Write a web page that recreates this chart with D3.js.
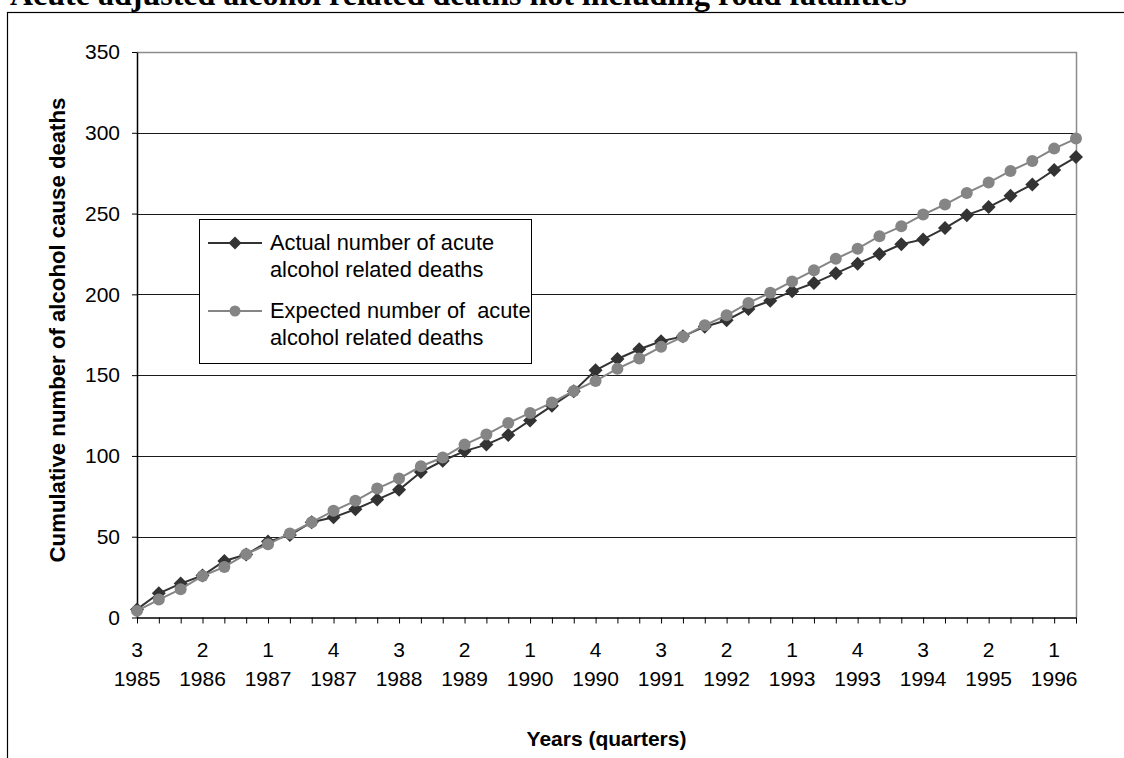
<!DOCTYPE html>
<html>
<head>
<meta charset="utf-8">
<script src="https://cdn.jsdelivr.net/npm/d3@7"></script>
<style>
  html, body { margin: 0; padding: 0; background: #fff; }
  svg { display: block; }
  text { font-family: "Liberation Sans", Arial, sans-serif; fill: #000; }
</style>
</head>
<body>
<svg id="chart" width="1124" height="758"></svg>
<script>
// Quarterly periods, 1985 Q3 through 1996 Q2
const periods = [
  "1985-3","1985-4","1986-1","1986-2","1986-3","1986-4","1987-1","1987-2",
  "1987-3","1987-4","1988-1","1988-2","1988-3","1988-4","1989-1","1989-2",
  "1989-3","1989-4","1990-1","1990-2","1990-3","1990-4","1991-1","1991-2",
  "1991-3","1991-4","1992-1","1992-2","1992-3","1992-4","1993-1","1993-2",
  "1993-3","1993-4","1994-1","1994-2","1994-3","1994-4","1995-1","1995-2",
  "1995-3","1995-4","1996-1","1996-2"
];

// Cumulative actual acute alcohol related deaths
const actualDeaths = [
  5, 15, 21, 26, 35, 39, 47, 51, 59, 62, 67, 73, 79, 90, 97, 103,
  107, 113, 122, 131, 140, 153, 160, 166, 171, 174, 180, 184, 191, 196, 202, 207,
  213, 219, 225, 231, 234, 241, 249, 254, 261, 268, 277, 285
];

// Cumulative expected acute alcohol related deaths
const expectedDeaths = [
  4.1, 11.1, 17.5, 25.7, 31.3, 39.2, 45.4, 52.0, 59.0, 66.0, 72.2, 79.8, 86.0, 93.6, 99.0, 107.0,
  113.2, 120.4, 126.6, 133.0, 140.2, 146.4, 154.0, 160.3, 167.5, 173.7, 180.9, 187.0, 194.7, 201.0, 208.0, 214.9,
  222.0, 228.3, 236.0, 242.1, 249.4, 255.6, 262.8, 269.2, 276.4, 282.6, 290.2, 296.4
];

const yTicks = [0, 50, 100, 150, 200, 250, 300, 350];

const seriesNames = [
  ["Actual number of acute", "alcohol related deaths"],
  ["Expected number of  acute", "alcohol related deaths"]
];

const titleText = "Acute adjusted alcohol related deaths not including road fatalities";
const yTitle = "Cumulative number of alcohol cause deaths";
const xTitle = "Years (quarters)";

const svg = d3.select("#chart");
const plot = { left: 137, right: 1076, top: 52, bottom: 617.5 };

const x = d3.scalePoint().domain(periods).range([plot.left, plot.right]);
const y = d3.scaleLinear().domain([0, 350]).range([plot.bottom, plot.top]);

// Outer frame
svg.append("rect")
  .attr("x", 7.5).attr("y", 12.5)
  .attr("width", 1130).attr("height", 760)
  .attr("fill", "none").attr("stroke", "#000").attr("stroke-width", 1.2);

// Title (partly above the page edge)
svg.append("text")
  .attr("x", 10).attr("y", 5)
  .style("font-family", "'Liberation Serif', 'Times New Roman', serif")
  .style("font-weight", "bold")
  .style("font-size", "32px")
  .text(titleText);

// Horizontal gridlines
svg.append("g")
  .selectAll("line")
  .data(yTicks.filter(v => v > 0 && v < 350))
  .join("line")
  .attr("x1", plot.left).attr("x2", plot.right)
  .attr("y1", d => Math.round(y(d)) + 0.5).attr("y2", d => Math.round(y(d)) + 0.5)
  .attr("stroke", "#1a1a1a").attr("stroke-width", 1);

// Plot-area border (top and right)
svg.append("path")
  .attr("d", `M${plot.left},${Math.round(y(350)) + 0.5}H${plot.right + 0.5}V${plot.bottom}`)
  .attr("fill", "none").attr("stroke", "#8c8c8c").attr("stroke-width", 1.5);

// Y axis
const yAxis = svg.append("g")
  .attr("transform", `translate(${plot.left},0)`)
  .call(d3.axisLeft(y).tickValues(yTicks).tickSize(5).tickPadding(12).tickSizeOuter(0));
yAxis.select(".domain").attr("stroke", "#000").attr("stroke-width", 1.5);
yAxis.selectAll(".tick line").attr("stroke", "#000");
yAxis.selectAll(".tick text")
  .style("font-size", "21px")
  .style("font-family", "'Liberation Sans', Arial, sans-serif")
  .attr("fill", "#000");

// X axis with a tick at every quarter, labels every third quarter
const xAxis = svg.append("g")
  .attr("transform", `translate(0,${plot.bottom})`)
  .call(d3.axisBottom(x).tickSize(6).tickSizeOuter(0).tickFormat(() => ""));
xAxis.select(".domain").attr("stroke", "#000").attr("stroke-width", 1.5);
xAxis.selectAll(".tick line").attr("stroke", "#000");
xAxis.selectAll(".tick text").remove();

const labelled = periods.filter((p, i) => i % 3 === 0);
const xLab = svg.append("g").selectAll("text")
  .data(labelled)
  .join("text")
  .attr("text-anchor", "middle")
  .style("font-size", "21px");
xLab.append("tspan")
  .attr("x", d => x(d)).attr("y", 657)
  .text(d => d.split("-")[1]);
xLab.append("tspan")
  .attr("x", d => x(d)).attr("y", 686)
  .text(d => d.split("-")[0]);

// Axis titles
svg.append("text")
  .attr("x", (plot.left + plot.right) / 2).attr("y", 746)
  .attr("text-anchor", "middle")
  .style("font-size", "21px").style("font-weight", "bold")
  .text(xTitle);

svg.append("text")
  .attr("transform", `translate(65,330) rotate(-90)`)
  .attr("text-anchor", "middle")
  .style("font-size", "22.2px").style("font-weight", "bold")
  .text(yTitle);

// Series
const diamond = "M0,-7L7,0L0,7L-7,0Z";
const actualColor = "#333333";
const expectedColor = "#858585";

const line = d3.line().x((d, i) => x(periods[i])).y(d => y(d));

svg.append("path")
  .datum(actualDeaths)
  .attr("d", line)
  .attr("fill", "none").attr("stroke", actualColor).attr("stroke-width", 2);
svg.append("g").selectAll("path")
  .data(actualDeaths)
  .join("path")
  .attr("d", diamond)
  .attr("transform", (d, i) => `translate(${x(periods[i])},${y(d)})`)
  .attr("fill", actualColor);

svg.append("path")
  .datum(expectedDeaths)
  .attr("d", line)
  .attr("fill", "none").attr("stroke", expectedColor).attr("stroke-width", 2);
svg.append("g").selectAll("circle")
  .data(expectedDeaths)
  .join("circle")
  .attr("cx", (d, i) => x(periods[i]))
  .attr("cy", d => y(d))
  .attr("r", 6)
  .attr("fill", expectedColor);

// Legend
const legend = svg.append("g");
legend.append("rect")
  .attr("x", 199.5).attr("y", 219.5)
  .attr("width", 332).attr("height", 144)
  .attr("fill", "#fff").attr("stroke", "#000").attr("stroke-width", 1);

const entries = [
  { color: actualColor, marker: "diamond", y: 243, names: seriesNames[0] },
  { color: expectedColor, marker: "circle", y: 311, names: seriesNames[1] }
];
entries.forEach(e => {
  legend.append("line")
    .attr("x1", 208).attr("x2", 262)
    .attr("y1", e.y).attr("y2", e.y)
    .attr("stroke", e.color).attr("stroke-width", 2);
  if (e.marker === "diamond") {
    legend.append("path").attr("d", "M0,-6.5L6.5,0L0,6.5L-6.5,0Z")
      .attr("transform", `translate(235,${e.y})`).attr("fill", e.color);
  } else {
    legend.append("circle").attr("cx", 235).attr("cy", e.y).attr("r", 5.5).attr("fill", e.color);
  }
  const t = legend.append("text")
    .style("font-size", "21.8px")
    .attr("xml:space", "preserve")
    .style("white-space", "pre");
  t.append("tspan").attr("x", 270).attr("y", e.y + 6.5).text(e.names[0]);
  t.append("tspan").attr("x", 270).attr("y", e.y + 33.5).text(e.names[1]);
});
</script>
</body>
</html>
